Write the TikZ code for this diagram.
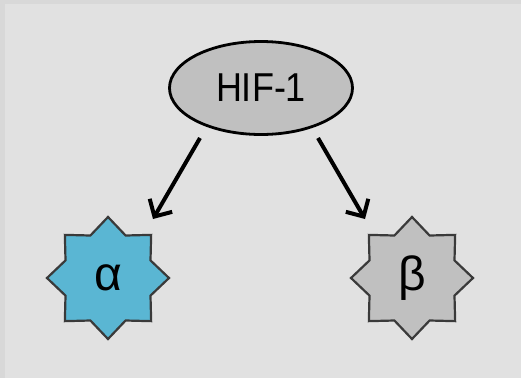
\documentclass[tikz,border=0pt]{standalone}
\usepackage{fontspec}
\setmainfont{Liberation Sans}
\usetikzlibrary{shapes.geometric,arrows.meta}
\definecolor{bgframe}{HTML}{D8D8D8}
\definecolor{bgfill}{HTML}{E1E1E1}
\definecolor{nodegray}{HTML}{C0C0C0}
\definecolor{starblue}{HTML}{5AB6D3}
\definecolor{starline}{HTML}{3A3A3A}
\tikzset{
  hifnode/.style={ellipse, draw=black, line width=2.8pt, fill=nodegray,
    minimum width=183pt, minimum height=93pt, inner sep=0pt,
    font=\fontsize{36}{40}\selectfont},
  starnode/.style={circle, minimum size=92pt, inner sep=0pt,
    font=\fontsize{48}{50}\selectfont},
  starpath/.style={draw=starline, line width=2.2pt, line join=miter},
  arr/.style={line width=4pt, -{Straight Barb[length=13pt,width=26pt,line width=4pt]}}
}
\begin{document}
\begin{tikzpicture}[x=1pt,y=-1pt]
\fill[bgframe] (0,0) rectangle (521,378);
\fill[bgfill] (5,4) rectangle (521,378);
\useasboundingbox (0,0) rectangle (521,378);
\node[hifnode] (hif) at (261,88) {\scalebox{1}[1.12]{HIF-1}};
\foreach \cx/\col in {108/starblue, 412/nodegray} {
  \begin{scope}[shift={(\cx,278)}, y=1pt]
  \path[starpath, fill=\col]
    (90:61) -- (112.5:46) -- (135:61) -- (157.5:46) -- (180:61) -- (202.5:46)
    -- (225:61) -- (247.5:46) -- (270:61) -- (292.5:46) -- (315:61) -- (337.5:46)
    -- (0:61) -- (22.5:46) -- (45:61) -- (67.5:46) -- cycle;
  \end{scope}
}
\node[starnode] (alpha) at (108,278) {α};
\node[starnode] (beta) at (412,278) {β};
\coordinate (la) at (200,138);
\coordinate (ra) at (318,138);
\coordinate (lt) at (153,219);
\coordinate (rt) at (365,219);
\draw[arr] (la) -- (lt);
\draw[arr] (ra) -- (rt);
\end{tikzpicture}
\end{document}
